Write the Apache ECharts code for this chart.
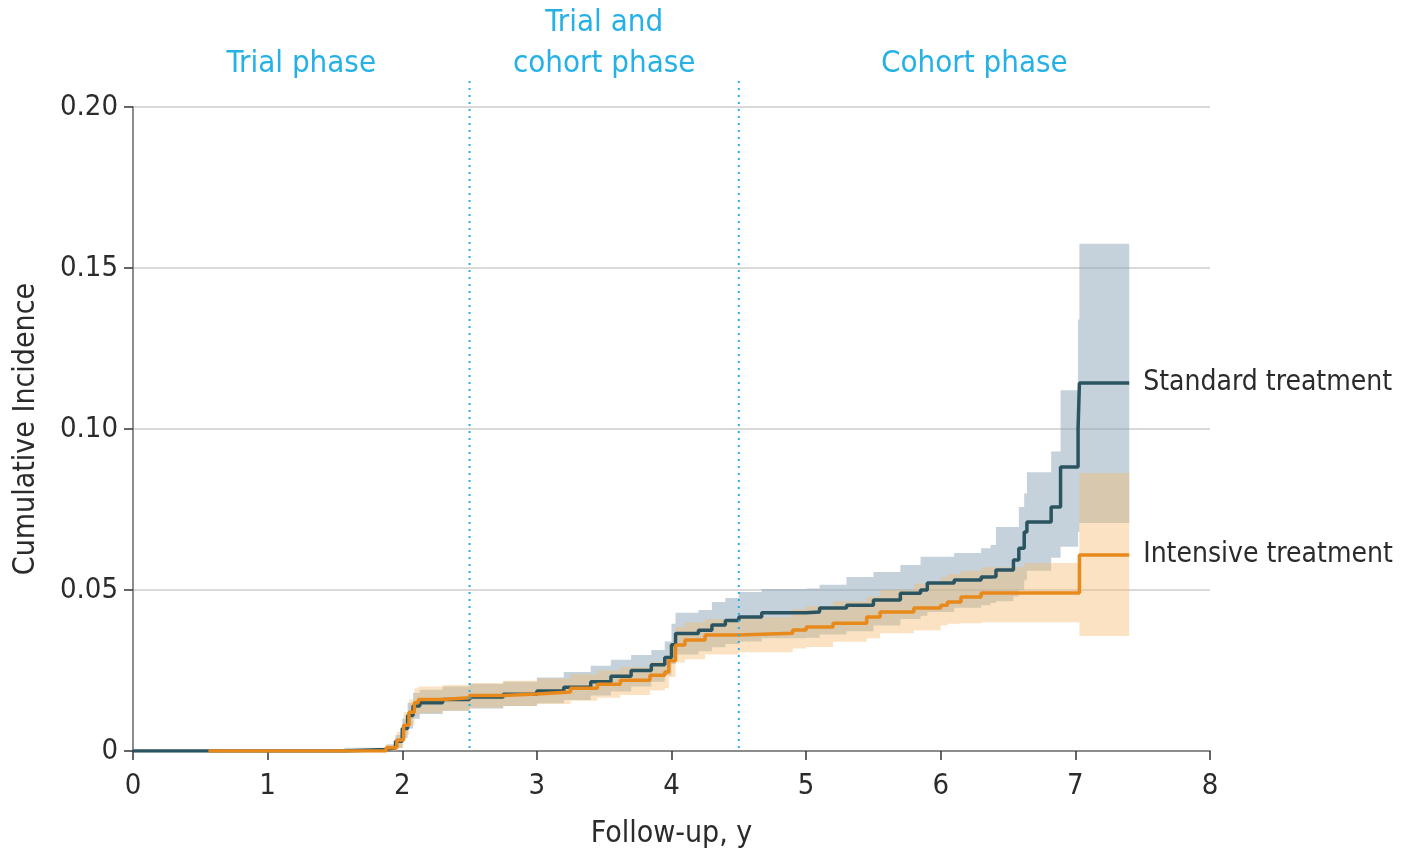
<!DOCTYPE html>
<html><head><meta charset="utf-8">
<script src="https://cdn.jsdelivr.net/npm/echarts@6/dist/echarts.min.js"></script>
<style>html,body{margin:0;padding:0;background:#fff}#c{width:1401px;height:854px}</style>
</head><body><div id="c"></div>
<script>
// ---- data ----
const yTicks = [0, 0.05, 0.10, 0.15, 0.20];
const xTicks = [0, 1, 2, 3, 4, 5, 6, 7, 8];
const phaseBounds = [0, 2.5, 4.5, 8];
const phaseNames = ['Trial phase', 'Trial and\ncohort phase', 'Cohort phase'];
const seriesNames = ['Standard treatment', 'Intensive treatment'];

const stdTime = [0.00,1.57,1.88,1.95,2.00,2.04,2.08,2.13,2.30,2.50,2.75,3.00,3.20,3.40,3.55,3.70,3.85,3.95,4.00,4.03,4.20,4.30,4.40,4.50,4.67,5.00,5.10,5.30,5.50,5.70,5.85,5.90,6.10,6.30,6.37,6.41,6.54,6.58,6.62,6.64,6.82,6.89,7.02,7.03,7.40];
const stdEst  = [0,0.0005,0.001,0.003,0.007,0.011,0.014,0.0150,0.0160,0.0168,0.0176,0.0186,0.0198,0.0215,0.0232,0.0250,0.0268,0.0290,0.0330,0.0365,0.0375,0.0391,0.0405,0.0416,0.0429,0.0432,0.0444,0.0453,0.0469,0.0490,0.0500,0.0522,0.0531,0.0540,0.0541,0.0562,0.0593,0.0630,0.0680,0.0711,0.0758,0.0882,0.1000,0.1143,0.1143];
const stdLow  = [0,0,0,0.001,0.004,0.007,0.010,0.0115,0.0125,0.0132,0.0140,0.0148,0.0158,0.0172,0.0185,0.0200,0.0215,0.0235,0.0270,0.0300,0.0310,0.0322,0.0332,0.0340,0.0350,0.0352,0.0362,0.0372,0.0390,0.0410,0.0420,0.0432,0.0445,0.0453,0.0460,0.0465,0.0480,0.0500,0.0530,0.0560,0.0600,0.0634,0.0680,0.0708,0.0708];
const stdHigh = [0,0.001,0.002,0.005,0.010,0.015,0.018,0.0190,0.0200,0.0208,0.0215,0.0228,0.0245,0.0265,0.0283,0.0298,0.0314,0.0340,0.0395,0.0429,0.0438,0.0463,0.0475,0.0494,0.0503,0.0505,0.0516,0.0540,0.0556,0.0578,0.0603,0.0603,0.0615,0.0630,0.0640,0.0696,0.0696,0.0758,0.0800,0.0866,0.0930,0.1120,0.1340,0.1575,0.1575];

const intTime = [0.56,1.88,1.96,2.01,2.05,2.09,2.12,2.30,2.50,2.75,3.00,3.25,3.45,3.62,3.84,3.95,3.98,4.03,4.10,4.25,4.50,4.90,5.00,5.20,5.45,5.55,5.80,6.00,6.05,6.15,6.30,6.62,7.03,7.40];
const intEst  = [0,0.001,0.0034,0.008,0.012,0.0150,0.0160,0.0165,0.0172,0.0177,0.0183,0.0195,0.0207,0.0220,0.0235,0.0245,0.0280,0.0329,0.0345,0.0360,0.0366,0.0376,0.0385,0.0397,0.0416,0.0432,0.0444,0.0453,0.0463,0.0478,0.0491,0.0491,0.0609,0.0609];
const intLow  = [0,0,0.001,0.005,0.008,0.0110,0.0118,0.0125,0.0134,0.0140,0.0146,0.0156,0.0165,0.0174,0.0188,0.0195,0.0230,0.0275,0.0285,0.0300,0.0307,0.0318,0.0323,0.0339,0.0350,0.0366,0.0375,0.0390,0.0395,0.0397,0.0400,0.0400,0.0357,0.0357];
const intHigh = [0,0.002,0.006,0.012,0.016,0.0195,0.0200,0.0205,0.0211,0.0218,0.0225,0.0238,0.0250,0.0261,0.0278,0.0290,0.0330,0.0385,0.0400,0.0410,0.0416,0.0440,0.0450,0.0465,0.0480,0.0500,0.0520,0.0540,0.0550,0.0560,0.0571,0.0584,0.0863,0.0863];

// ---- styling ----
const FONT = "'Liberation Sans Narrow','DejaVu Sans Condensed',sans-serif";
const TEXT = '#2b2b2b';
const STD_COLOR = '#2b5461';
const INT_COLOR = '#e8891c';
const STD_BAND = 'rgba(140,166,184,0.5)';
const INT_BAND = 'rgba(242,186,110,0.42)';
const PHASE_COLOR = '#25b1e6';

function bandSeries(time, low, high, color) {
  return {
    type: 'custom', silent: true, z: 1,
    data: [[time[0], low[0]]],
    renderItem: function (params, api) {
      const pts = [];
      for (let i = 0; i < time.length; i++) {
        const tn = i < time.length - 1 ? time[i + 1] : time[i];
        pts.push(api.coord([time[i], high[i]]));
        pts.push(api.coord([tn, high[i]]));
      }
      for (let i = time.length - 1; i >= 0; i--) {
        const tn = i < time.length - 1 ? time[i + 1] : time[i];
        pts.push(api.coord([tn, low[i]]));
        pts.push(api.coord([time[i], low[i]]));
      }
      return { type: 'polygon', shape: { points: pts }, style: { fill: color } };
    }
  };
}

function lineSeries(name, time, est, color) {
  return {
    name: name, type: 'line', step: 'end', showSymbol: false, z: 3,
    data: time.map((t, i) => [t, est[i]]),
    lineStyle: { color: color, width: 3.5 },
    itemStyle: { color: color },
    endLabel: { show: true, formatter: name, distance: 14, color: TEXT, fontFamily: FONT, fontSize: 28 }
  };
}

const chart = echarts.init(document.getElementById('c'));
chart.setOption({
  animation: false,
  backgroundColor: '#fff',
  grid: { left: 133, right: 191, top: 107, bottom: 100, containLabel: false },
  xAxis: {
    type: 'value', min: xTicks[0], max: xTicks[xTicks.length - 1], interval: 1,
    name: 'Follow-up, y', nameLocation: 'middle', nameGap: 68,
    nameTextStyle: { color: TEXT, fontFamily: FONT, fontSize: 30 },
    axisLine: { show: true, lineStyle: { color: '#8c8c8c', width: 2 } },
    axisTick: { show: true, length: 9, lineStyle: { color: '#333', width: 1.5 } },
    axisLabel: { color: TEXT, fontFamily: FONT, fontSize: 29, margin: 21 },
    splitLine: { show: false }
  },
  yAxis: {
    type: 'value', min: yTicks[0], max: yTicks[yTicks.length - 1], interval: 0.05,
    name: 'Cumulative Incidence', nameLocation: 'middle', nameGap: 92,
    nameTextStyle: { color: TEXT, fontFamily: FONT, fontSize: 30 },
    axisLine: { show: true, lineStyle: { color: '#8c8c8c', width: 2 } },
    axisTick: { show: true, length: 9, lineStyle: { color: '#333', width: 1.5 } },
    axisLabel: { color: TEXT, fontFamily: FONT, fontSize: 29, margin: 15,
      formatter: v => v === 0 ? '0' : v.toFixed(2) },
    splitLine: { show: true, lineStyle: { color: '#d9d9d9', width: 2 } }
  },
  series: [
    bandSeries(stdTime, stdLow, stdHigh, STD_BAND),
    bandSeries(intTime, intLow, intHigh, INT_BAND),
    lineSeries(seriesNames[0], stdTime, stdEst, STD_COLOR),
    lineSeries(seriesNames[1], intTime, intEst, INT_COLOR),
    {
      type: 'custom', silent: true, z: 4, clip: false,
      data: phaseBounds.slice(1, -1).map(t => [t, 0]),
      renderItem: function (params, api) {
        const t = api.value(0);
        const p0 = api.coord([t, yTicks[0]]);
        const p1 = api.coord([t, yTicks[yTicks.length - 1]]);
        return { type: 'line', shape: { x1: p0[0], y1: p0[1] - 3, x2: p1[0], y2: p1[1] - 27 },
          style: { stroke: PHASE_COLOR, lineWidth: 2, lineDash: [2, 5] } };
      }
    },
    {
      type: 'custom', silent: true, z: 4, clip: false,
      data: phaseNames.map((n, i) => [(phaseBounds[i] + phaseBounds[i + 1]) / 2, yTicks[yTicks.length - 1]]),
      renderItem: function (params, api) {
        const p = api.coord([api.value(0), api.value(1)]);
        return { type: 'text', x: p[0], y: p[1] - 23,
          style: { text: phaseNames[params.dataIndex], fill: PHASE_COLOR, font: '31px ' + FONT,
            align: 'center', verticalAlign: 'bottom', lineHeight: 41 } };
      }
    }
  ]
});
</script></body></html>
